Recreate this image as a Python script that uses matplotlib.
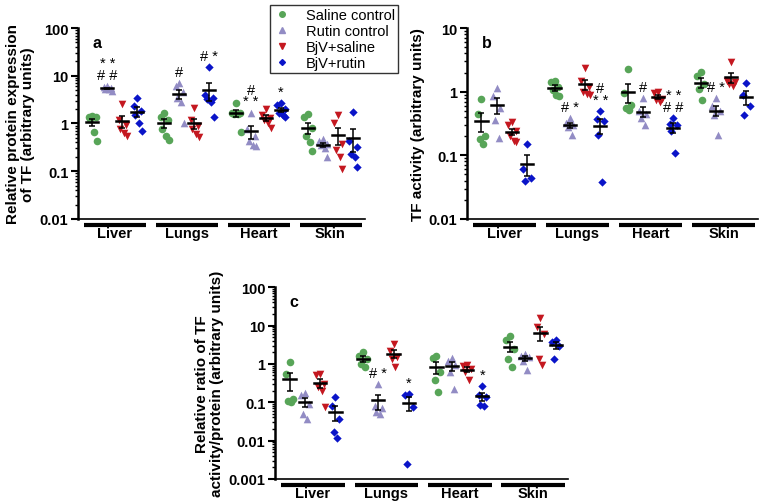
import numpy as np
import matplotlib
matplotlib.use("Agg")
import matplotlib.pyplot as plt
from matplotlib.transforms import blended_transform_factory
from matplotlib.lines import Line2D

plt.rcParams['font.family'] = ['Liberation Sans', 'DejaVu Sans']

organs = ["Liver", "Lungs", "Heart", "Skin"]
treatments = ["Saline control", "Rutin control", "BjV+saline", "BjV+rutin"]
colors = ["#58a558", "#928cc4", "#c41820", "#0a14c8"]
markers = ["o", "^", "v", "D"]

# panel a: relative protein expression of TF (one list per organ)
prot_saline = [[1.45, 1.4, 1.35, 1.25, 0.65, 0.42], [1.7, 1.4, 1.2, 0.75, 0.55, 0.46],
               [2.7, 1.7, 1.65, 1.6, 1.55, 0.67], [1.55, 1.35, 0.82, 0.55, 0.4, 0.26]]
prot_rutin = [[6.0, 5.7, 5.5, 5.4, 5.2, 4.8], [7.0, 6.0, 4.5, 3.5, 2.8, 1.0],
              [1.7, 0.75, 0.55, 0.42, 0.35, 0.33], [0.48, 0.42, 0.38, 0.35, 0.3, 0.2]]
prot_bjv = [[2.6, 1.2, 0.95, 0.75, 0.62, 0.55], [2.1, 1.2, 0.9, 0.75, 0.6, 0.52],
            [2.0, 1.5, 1.3, 1.2, 1.0, 0.8], [1.5, 1.0, 0.38, 0.28, 0.2, 0.11]]
prot_bjv_rutin = [[3.4, 2.3, 1.8, 1.5, 1.0, 0.68], [15.0, 4.0, 3.5, 3.2, 2.8, 1.4],
                  [2.7, 2.4, 2.0, 1.7, 1.5, 1.35], [1.75, 0.42, 0.32, 0.23, 0.2, 0.12]]

# panel b: TF activity
act_saline = [[0.76, 0.45, 0.2, 0.18, 0.15], [1.5, 1.4, 1.2, 1.05, 0.9, 0.85],
              [2.3, 0.97, 0.62, 0.55, 0.52], [2.05, 1.75, 1.3, 1.1, 0.73]]
act_rutin = [[1.15, 0.85, 0.55, 0.36, 0.19], [0.38, 0.32, 0.3, 0.28, 0.21],
             [0.8, 0.5, 0.45, 0.38, 0.3], [0.79, 0.6, 0.5, 0.43, 0.21]]
act_bjv = [[0.33, 0.3, 0.24, 0.2, 0.17, 0.16], [2.4, 1.5, 1.2, 1.0, 0.92, 0.88],
           [1.0, 0.94, 0.78, 0.74, 0.7], [2.95, 1.5, 1.4, 1.3, 1.25]]
act_bjv_rutin = [[0.15, 0.06, 0.044, 0.04], [0.5, 0.37, 0.35, 0.21, 0.038],
                 [0.39, 0.31, 0.3, 0.24, 0.11], [1.35, 0.88, 0.6, 0.43]]

# panel c: ratio of TF activity / protein
ratio_saline = [[1.1, 0.55, 0.12, 0.11, 0.1], [2.0, 1.65, 1.35, 1.0, 0.82],
                [1.6, 1.45, 0.62, 0.37, 0.19], [5.2, 4.2, 2.5, 1.35, 0.82]]
ratio_rutin = [[0.175, 0.15, 0.09, 0.05, 0.036], [0.3, 0.08, 0.07, 0.055, 0.05],
               [1.45, 1.2, 0.95, 0.6, 0.22], [1.85, 1.65, 1.5, 1.2, 0.7]]
ratio_bjv = [[0.55, 0.52, 0.3, 0.25, 0.2, 0.074], [3.3, 2.2, 1.5, 1.3, 0.82],
             [0.95, 0.9, 0.74, 0.6, 0.37], [15.5, 9.0, 6.0, 1.3, 0.95]]
ratio_bjv_rutin = [[0.14, 0.08, 0.037, 0.017, 0.012], [0.16, 0.15, 0.074, 0.0025],
                   [0.26, 0.15, 0.14, 0.085, 0.08], [4.2, 3.7, 3.0, 1.35]]

# significance marks: (organ index, treatment index, text)
sig_a = [(0, 1, "* *\n# #"), (1, 1, "#"), (1, 3, "# *"), (2, 1, "#\n* *"), (2, 3, "*")]
sig_b = [(1, 1, "# *"), (1, 3, "#\n* *"), (2, 1, "#"), (2, 3, "* *\n# #"), (3, 1, "# *")]
sig_c = [(1, 1, "# *"), (1, 3, "*"), (2, 3, "*")]

gap = 4.8
spread = [0.0, -0.24, 0.24, -0.12, 0.12, 0.3]


def draw_panel(ax, data, sigs, ymin, ymax, ylabel, letter):
    for t, series in enumerate(data):
        for g, vals in enumerate(series):
            vals = np.array(vals)
            order = np.argsort(-vals)
            offs = np.zeros(len(vals))
            for k, i in enumerate(order):
                offs[i] = spread[k % len(spread)]
            xc = g * gap + t
            ax.scatter(xc + offs, vals, marker=markers[t], color=colors[t],
                       s=30 if markers[t] != "D" else 18, linewidths=0, zorder=2, clip_on=False)
            m = vals.mean()
            sem = vals.std(ddof=1) / np.sqrt(len(vals))
            ax.plot([xc - 0.4, xc + 0.4], [m, m], color="black", lw=1.8, zorder=3)
            ax.errorbar(xc, m, yerr=sem, color="black", lw=1.1, capsize=2.2,
                        capthick=1.1, zorder=3)
    for g, t, txt in sigs:
        top = max(data[t][g])
        ax.annotate(txt, (g * gap + t, top), xytext=(0, 3), textcoords="offset points",
                    ha="center", va="bottom", fontsize=10.5, linespacing=0.8)
    ax.set_yscale("log")
    ax.set_ylim(ymin, ymax)
    ax.set_xlim(-0.95, 3 * gap + 3 + 0.8)
    dec = 10.0 ** np.arange(np.log10(ymin), np.log10(ymax) + 1)
    ax.set_yticks(dec)
    ax.set_yticklabels([("%g" % d) for d in dec], fontweight="bold", fontsize=10.5)
    ax.tick_params(axis="y", which="major", length=5, width=1.5, pad=2)
    ax.tick_params(axis="y", which="minor", length=2.5, width=1)
    ax.set_xticks([])
    ax.spines["top"].set_visible(False)
    ax.spines["right"].set_visible(False)
    ax.spines["left"].set_linewidth(1.8)
    ax.spines["bottom"].set_linewidth(1.2)
    ax.set_ylabel(ylabel, fontweight="bold", fontsize=11, linespacing=1.1, labelpad=3)
    ax.text(0.05, 0.9, letter, transform=ax.transAxes, fontweight="bold", fontsize=11.5)
    tr = blended_transform_factory(ax.transData, ax.transAxes)
    for g, name in enumerate(organs):
        ax.plot([g * gap - 0.55, g * gap + 3.6], [-0.03, -0.03], transform=tr,
                color="black", lw=3, clip_on=False, solid_capstyle="butt")
        ax.text(g * gap + 1.5, -0.075, name, transform=tr, ha="center", va="center",
                fontweight="bold", fontsize=10.5)


fig = plt.figure(figsize=(7.61, 5.02), dpi=100)
ax_a = fig.add_axes([0.1025, 0.562, 0.377, 0.380])
ax_b = fig.add_axes([0.6137, 0.562, 0.383, 0.380])
ax_c = fig.add_axes([0.3614, 0.044, 0.385, 0.382])

draw_panel(ax_a, [prot_saline, prot_rutin, prot_bjv, prot_bjv_rutin], sig_a, 0.01, 100,
           "Relative protein expression\nof TF (arbitrary units)", "a")
draw_panel(ax_b, [act_saline, act_rutin, act_bjv, act_bjv_rutin], sig_b, 0.01, 10,
           "TF activity (arbitrary units)", "b")
draw_panel(ax_c, [ratio_saline, ratio_rutin, ratio_bjv, ratio_bjv_rutin], sig_c, 0.001, 100,
           "Relative ratio of TF\nactivity/protein (arbitrary units)", "c")

handles = [Line2D([], [], ls="", marker=markers[i], color=colors[i],
                  markersize=4 if markers[i] != "D" else 3) for i in range(4)]
leg = fig.legend(handles, treatments, loc="upper left", bbox_to_anchor=(0.345, 1.003),
                 fontsize=10.5, frameon=True, fancybox=False, edgecolor="black",
                 handletextpad=1.0, labelspacing=0.12, borderpad=0.25, handlelength=1.2)
leg.get_frame().set_linewidth(1.0)

fig.savefig("out.png", dpi=100)
